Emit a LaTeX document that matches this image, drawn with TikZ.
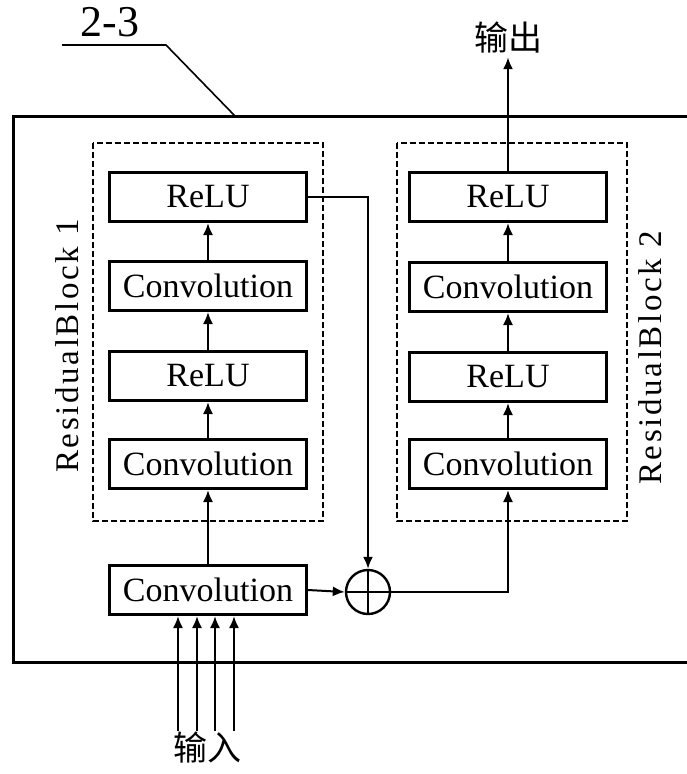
\documentclass[tikz,border=0pt]{standalone}
\usepackage{fontspec}
\setmainfont{Liberation Serif}
\newfontfamily\cjk{Noto Sans CJK SC}
\newfontfamily\spaced[LetterSpace=8]{Liberation Serif}
\usetikzlibrary{arrows.meta}
\begin{document}
\begin{tikzpicture}[x=1pt, y=-1pt,
  every node/.style={font=\fontsize{34}{38}\selectfont},
  layer/.style={draw, line width=3pt, minimum width=197pt, minimum height=49pt, inner sep=0pt},
  blockframe/.style={draw, line width=1.6pt, dash pattern=on 6pt off 3pt},
  cjklabel/.style={font=\cjk\fontsize{34}{38}\selectfont},
  flow/.style={line width=2pt, -{Latex[length=12pt,width=10pt]}}]
  \useasboundingbox (0,0) rectangle (687,774);
  \clip (0,0) rectangle (687,774);
  \draw[line width=3pt] (13,116) rectangle (720,662);
  \node[font=\fontsize{44}{48}\selectfont] (tag) at (110,22) {2-3};
  \coordinate (tagL) at (62,45);
  \coordinate (tagR) at (166,45);
  \coordinate (tagP) at (235,116);
  \draw[line width=1.6pt] (tagL) -- (tagR) -- (tagP);
  \draw[blockframe] (93,143) rectangle (323,521);
  \draw[blockframe] (397,143) rectangle (627,521);
  \node[rotate=90, font=\spaced\fontsize{33}{38}\selectfont] (lblA) at (67,346) {ResidualBlock 1};
  \node[rotate=90, font=\spaced\fontsize{33}{38}\selectfont] (lblB) at (650,358) {ResidualBlock 2};
  \node[layer] (reluA2) at (208,197) {ReLU};
  \node[layer] (convA2) at (208,286) {Convolution};
  \node[layer] (reluA1) at (208,376) {ReLU};
  \node[layer] (convA1) at (208,464) {Convolution};
  \node[layer] (reluB2) at (508,197) {ReLU};
  \node[layer] (convB2) at (508,287) {Convolution};
  \node[layer] (reluB1) at (508,377) {ReLU};
  \node[layer] (convB1) at (508,464) {Convolution};
  \node[layer] (conv0) at (208,590) {Convolution};
  \node[circle, draw, line width=2.4pt, minimum size=44pt, inner sep=0pt] (sum) at (368,592) {};
  \draw[line width=2pt] (sum.north) -- (sum.south) (sum.west) -- (sum.east);
  \draw[flow] (conv0) -- (convA1);
  \draw[flow] (convA1) -- (reluA1);
  \draw[flow] (reluA1) -- (convA2);
  \draw[flow] (convA2) -- (reluA2);
  \draw[flow] (reluA2.east) -| (sum.north);
  \draw[flow] (conv0.east) -- (sum.west);
  \draw[flow] (sum.east) -| (convB1.south);
  \draw[flow] (convB1) -- (reluB1);
  \draw[flow] (reluB1) -- (convB2);
  \draw[flow] (convB2) -- (reluB2);
  \node[cjklabel] (out) at (508,38) {输出};
  \draw[flow] (reluB2.north) -- (out.south);
  \node[cjklabel] (in) at (207,748) {输入};
  \foreach \xx in {178,197,215,234}
    \draw[flow] (\xx,731) -- (conv0.south -| \xx,0);
\end{tikzpicture}
\end{document}
